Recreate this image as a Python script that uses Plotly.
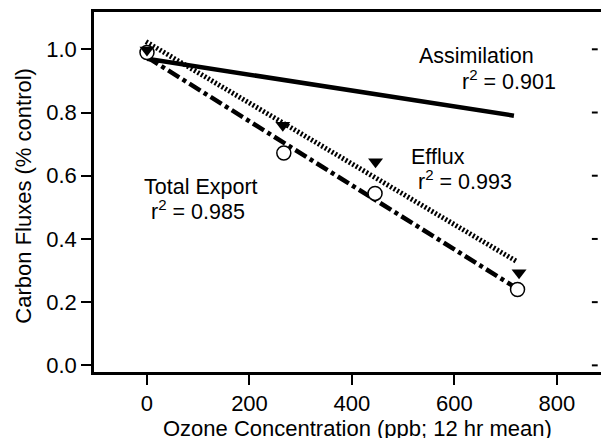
import plotly.graph_objects as go

# Data
efflux_x = [0, 265, 446, 726]
efflux_y = [0.998, 0.760, 0.644, 0.293]
export_x = [0, 267, 445, 723]
export_y = [0.99, 0.672, 0.544, 0.240]

# Regression lines (endpoints)
assim_fit_x = [0, 716]
assim_fit_y = [0.970, 0.790]
efflux_fit_x = [-2, 720]
efflux_fit_y = [1.024, 0.330]
export_fit_x = [0, 722]
export_fit_y = [0.975, 0.243]

y_ticks = [0.0, 0.2, 0.4, 0.6, 0.8, 1.0]
x_ticks = [0, 200, 400, 600, 800]

FONT = "Liberation Sans, Arial, Helvetica, sans-serif"
FS = 22

fig = go.Figure()
fig.add_trace(go.Scatter(x=assim_fit_x, y=assim_fit_y, mode="lines",
                         line=dict(color="black", width=4.5), showlegend=False))
fig.add_trace(go.Scatter(x=efflux_fit_x, y=efflux_fit_y, mode="lines",
                         line=dict(color="black", width=5, dash="2px,2px"), showlegend=False))
fig.add_trace(go.Scatter(x=export_fit_x, y=export_fit_y, mode="lines",
                         line=dict(color="black", width=4.5, dash="13px,4px,4px,4px"), showlegend=False))
fig.add_trace(go.Scatter(x=export_x, y=export_y, mode="markers",
                         marker=dict(symbol="circle", size=14, color="white",
                                     line=dict(color="black", width=1.5)), showlegend=False))
fig.add_trace(go.Scatter(x=efflux_x, y=efflux_y, mode="markers",
                         marker=dict(symbol="triangle-down", size=13, color="black",
                                     line=dict(width=0)), showlegend=False))

ann_font = dict(family=FONT, size=21.5, color="black")
annotations = [
    dict(x=643, y=0.980, text="Assimilation"),
    dict(x=707, y=0.904, text="r<sup>2</sup> = 0.901"),
    dict(x=567, y=0.658, text="Efflux"),
    dict(x=621, y=0.586, text="r<sup>2</sup> = 0.993"),
    dict(x=106, y=0.563, text="Total Export"),
    dict(x=100, y=0.491, text="r<sup>2</sup> = 0.985"),
]
for a in annotations:
    fig.add_annotation(x=a["x"], y=a["y"], text=a["text"], showarrow=False,
                       font=ann_font, xref="x", yref="y")

# Axis titles
fig.add_annotation(x=0.52, y=0, xref="paper", yref="paper", yshift=-56,
                   xanchor="center", yanchor="middle", showarrow=False,
                   text="Ozone Concentration (ppb; 12 hr mean)",
                   font=dict(family=FONT, size=FS, color="black"))
fig.add_annotation(x=-0.138, y=0.49, xref="paper", yref="paper", textangle=-90,
                   xanchor="center", yanchor="middle", showarrow=False,
                   text="Carbon Fluxes (% control)",
                   font=dict(family=FONT, size=FS, color="black"))

# Right-side tick marks (inside), placed on the y scale at each tick value
for t in y_ticks:
    fig.add_shape(type="line", xref="paper", yref="y",
                  x0=0.982, x1=0.9935, y0=t, y1=t,
                  line=dict(color="black", width=2))

fig.update_layout(
    width=601, height=438,
    margin=dict(l=94, r=0, t=12, b=66),
    plot_bgcolor="white", paper_bgcolor="white",
    font=dict(family=FONT, size=FS, color="black"),
    xaxis=dict(
        range=[-103.4, 885.9], tickvals=x_ticks, ticks="outside", ticklen=10,
        tickwidth=2, tickcolor="black", showline=True, linewidth=2.5,
        linecolor="black", mirror=True, showgrid=False, zeroline=False,
        automargin=False, tickfont=dict(family=FONT, size=FS, color="black"),
    ),
    yaxis=dict(
        range=[-0.021, 1.118], tickvals=y_ticks, tickformat=".1f",
        ticks="outside", ticklen=10, tickwidth=2, tickcolor="black",
        showline=True, linewidth=2.5, linecolor="black", showgrid=False,
        zeroline=False, automargin=False,
        tickfont=dict(family=FONT, size=FS, color="black"),
    ),
)

fig.write_html("out.html", config={"displayModeBar": False},
               post_script="document.body.style.margin='0px';")
